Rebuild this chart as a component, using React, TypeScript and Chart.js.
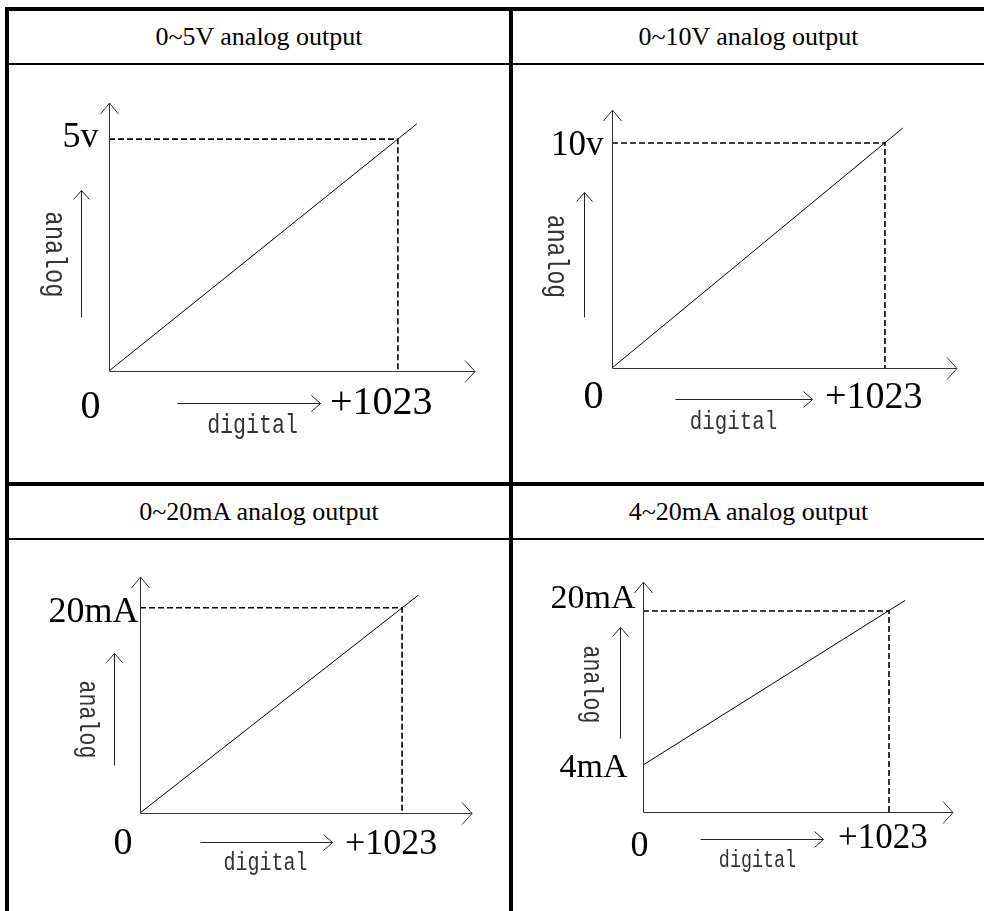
import React, { useEffect, useRef } from 'react';
import { Chart, registerables } from 'chart.js';
Chart.register(...registerables);

// ---------- data ----------
const TITLES = ['0~5V analog output', '0~10V analog output', '0~20mA analog output', '4~20mA analog output'];
const TOP_LABELS = ['5v', '10v', '20mA', '20mA'];
const TOP_VALUES = [5, 10, 20, 20];
const START_LABELS = ['', '', '', '4mA'];
const START_VALUES = [0, 0, 0, 4];
const LINE_END_X = [1090, 1090, 1085, 1090];
const LINE_END_Y = [5.33, 10.67, 21.2, 21.1];
const DIGITAL_MAX = 1023;
const X_LABEL = '+1023';
const ORIGIN_LABEL = '0';
const X_AXIS_LABEL = 'digital';
const Y_AXIS_LABEL = 'analog';
const X_MAX = [1296, 1293, 1296, 1289];
const Y_MIN = [0, 0, 0, -0.88];
const Y_MAX = [5.78, 11.47, 23.0, 23.01];

// ---------- layout / style ----------
const SERIF = "'Liberation Serif', 'Times New Roman', serif";
const MONO = "'Liberation Mono', 'Courier New', monospace";

type Lay = any;
const LAYOUT: Lay[] = [
  {
    box: [9, 65, 500, 417], pad: { left: 100, right: 34, top: 38, bottom: 111 },
    top: { dx: -11, dy: 8, size: 36 }, start: null,
    origin: { dx: -9, dy: 46, size: 40 }, xl: { dx: -68, dy: 42, size: 40 },
    darrow: { x0: 68, x1: 211, dy: 32 }, dtext: { dx: 143, dy: 61, size: 27 },
    atext: { dx: -56, dy: -117, size: 30 }, aarrow: { dx: -29, y0: -54, y1: -181 },
  },
  {
    box: [513, 65, 471, 417], pad: { left: 99, right: 27, top: 45, bottom: 114 },
    top: { dx: -9, dy: 12, size: 35 }, start: null,
    origin: { dx: -9, dy: 39, size: 40 }, xl: { dx: -60, dy: 39, size: 38 },
    darrow: { x0: 63, x1: 200, dy: 31 }, dtext: { dx: 121, dy: 60, size: 26 },
    atext: { dx: -57, dy: -112, size: 29 }, aarrow: { dx: -29, y0: -51, y1: -176 },
  },
  {
    box: [9, 540, 500, 371], pad: { left: 131, right: 37, top: 37, bottom: 98 },
    top: { dx: -2, dy: 14, size: 36 }, start: null,
    origin: { dx: -8, dy: 40, size: 38 }, xl: { dx: -57, dy: 40, size: 36 },
    darrow: { x0: 60, x1: 192, dy: 29 }, dtext: { dx: 125, dy: 56, size: 25 },
    atext: { dx: -53, dy: -94, size: 27 }, aarrow: { dx: -27, y0: -48, y1: -160 },
  },
  {
    box: [513, 540, 471, 371], pad: { left: 130, right: 31, top: 42, bottom: 99 },
    top: { dx: -8, dy: -3, size: 34 }, start: { dx: -16, dy: 12, size: 34 },
    origin: { dx: 5, dy: 43, size: 36 }, xl: { dx: -51, dy: 35, size: 35 },
    darrow: { x0: 57, x1: 180, dy: 27 }, dtext: { dx: 114, dy: 54, size: 23 },
    atext: { dx: -52, dy: -128, size: 27 }, aarrow: { dx: -24, y0: -74, y1: -185 },
  },
];

function arrow(ctx: CanvasRenderingContext2D, x1: number, y1: number, x2: number, y2: number, len: number, half: number) {
  const ang = Math.atan2(y2 - y1, x2 - x1);
  ctx.beginPath();
  ctx.moveTo(x1, y1);
  ctx.lineTo(x2, y2);
  const bx = x2 - Math.cos(ang) * len, by = y2 - Math.sin(ang) * len;
  const px = -Math.sin(ang) * half, py = Math.cos(ang) * half;
  ctx.moveTo(bx + px, by + py);
  ctx.lineTo(x2, y2);
  ctx.lineTo(bx - px, by - py);
  ctx.stroke();
}

function text(ctx: CanvasRenderingContext2D, s: string, x: number, y: number, font: string, align: CanvasTextAlign, color: string, sx = 1) {
  ctx.save();
  ctx.translate(x, y);
  ctx.scale(sx, 1);
  ctx.font = font;
  ctx.textAlign = align;
  ctx.textBaseline = 'alphabetic';
  ctx.fillStyle = color;
  ctx.fillText(s, 0, 0);
  ctx.restore();
}

const decor = {
  id: 'decor',
  afterDatasetsDraw(chart: any, _args: any, opts: any) {
    const i = opts.index;
    const L = LAYOUT[i];
    const ctx: CanvasRenderingContext2D = chart.ctx;
    const ca = chart.chartArea;
    const xs = chart.scales.x, ys = chart.scales.y;
    const ox = Math.round(xs.getPixelForValue(0)) + 0.5;
    const oy = Math.round(ys.getPixelForValue(Y_MIN[i])) + 0.5;
    ctx.save();
    ctx.strokeStyle = '#333';
    ctx.lineWidth = 1;
    // axes
    arrow(ctx, ox, oy, ox, ca.top, 11, 9);
    arrow(ctx, ox, oy, ca.right, oy, 10, 11);
    // value labels
    const yTop = ys.getPixelForValue(TOP_VALUES[i]);
    text(ctx, TOP_LABELS[i], ox + L.top.dx, yTop + L.top.dy, `${L.top.size}px ${SERIF}`, 'right', '#000');
    if (START_LABELS[i] && L.start) {
      const ys0 = ys.getPixelForValue(START_VALUES[i]);
      text(ctx, START_LABELS[i], ox + L.start.dx, ys0 + L.start.dy, `${L.start.size}px ${SERIF}`, 'right', '#000');
    }
    text(ctx, ORIGIN_LABEL, ox + L.origin.dx, oy + L.origin.dy, `${L.origin.size}px ${SERIF}`, 'right', '#000');
    const xD = xs.getPixelForValue(DIGITAL_MAX);
    text(ctx, X_LABEL, xD + L.xl.dx, oy + L.xl.dy, `${L.xl.size}px ${SERIF}`, 'left', '#000');
    // digital arrow + text
    ctx.strokeStyle = '#222';
    arrow(ctx, ox + L.darrow.x0, oy + L.darrow.dy, ox + L.darrow.x1, oy + L.darrow.dy, 9, 8);
    text(ctx, X_AXIS_LABEL, ox + L.dtext.dx, oy + L.dtext.dy, `${L.dtext.size}px ${MONO}`, 'center', '#333', 0.8);
    // analog arrow + rotated text
    const ax = Math.round(ox + L.aarrow.dx) + 0.5;
    arrow(ctx, ax, oy + L.aarrow.y0, ax, oy + L.aarrow.y1, 9, 8);
    ctx.save();
    ctx.translate(ox + L.atext.dx, oy + L.atext.dy);
    ctx.rotate(Math.PI / 2);
    ctx.scale(0.8, 1);
    ctx.font = `${L.atext.size}px ${MONO}`;
    ctx.textAlign = 'center';
    ctx.textBaseline = 'middle';
    ctx.fillStyle = '#333';
    ctx.fillText(Y_AXIS_LABEL, 0, 0);
    ctx.restore();
    ctx.restore();
  },
};

function Panel({ index }: { index: number }) {
  const ref = useRef<HTMLCanvasElement>(null);
  const L = LAYOUT[index];
  useEffect(() => {
    if (!ref.current) return;
    const chart = new Chart(ref.current, {
      type: 'line',
      data: {
        datasets: [
          {
            data: [
              { x: 0, y: START_VALUES[index] },
              { x: LINE_END_X[index], y: LINE_END_Y[index] },
            ],
            borderColor: '#000',
            borderWidth: 1,
            pointRadius: 0,
            fill: false,
          },
          {
            data: [
              { x: 0, y: TOP_VALUES[index] },
              { x: DIGITAL_MAX, y: TOP_VALUES[index] },
              { x: DIGITAL_MAX, y: Y_MIN[index] },
            ],
            borderColor: '#000',
            borderWidth: 1.6,
            borderDash: [6, 3],
            pointRadius: 0,
            fill: false,
          },
        ],
      },
      options: {
        animation: false,
        responsive: false,
        devicePixelRatio: 1,
        layout: { padding: L.pad },
        scales: {
          x: { type: 'linear', min: 0, max: X_MAX[index], display: false },
          y: { type: 'linear', min: Y_MIN[index], max: Y_MAX[index], display: false },
        },
        plugins: {
          legend: { display: false },
          tooltip: { enabled: false },
          title: { display: false },
          // @ts-ignore
          decor: { index },
        },
        elements: { line: { tension: 0 } },
      } as any,
      plugins: [decor as any],
    });
    return () => chart.destroy();
  }, [index]);
  const [x, y, w, h] = L.box;
  return (
    <canvas
      ref={ref}
      width={w}
      height={h}
      style={{ position: 'absolute', left: x, top: y, width: w, height: h }}
    />
  );
}

const lineStyle = (l: number, t: number, w: number, h: number): React.CSSProperties => ({
  position: 'absolute', left: l, top: t, width: w, height: h, background: '#000',
});

const headerStyle = (l: number, t: number, w: number): React.CSSProperties => ({
  position: 'absolute', left: l, top: t, width: w, height: 52, lineHeight: '52px',
  textAlign: 'center', fontFamily: SERIF, fontSize: 26, color: '#000', whiteSpace: 'nowrap',
});

export default function App() {
  return (
    <div style={{ position: 'absolute', left: 0, top: 0, width: 984, height: 911, background: '#fff', overflow: 'hidden' }}>
      <div style={headerStyle(9, 11, 500)}>{TITLES[0]}</div>
      <div style={headerStyle(513, 11, 471)}>{TITLES[1]}</div>
      <div style={headerStyle(9, 486, 500)}>{TITLES[2]}</div>
      <div style={headerStyle(513, 486, 471)}>{TITLES[3]}</div>
      {[0, 1, 2, 3].map((i) => <Panel key={i} index={i} />)}
      {/* table rules */}
      <div style={lineStyle(5, 7, 979, 4)} />
      <div style={lineStyle(5, 7, 4, 904)} />
      <div style={lineStyle(509, 7, 4, 904)} />
      <div style={lineStyle(5, 63, 979, 2)} />
      <div style={lineStyle(5, 482, 979, 4)} />
      <div style={lineStyle(5, 538, 979, 2)} />
    </div>
  );
}
